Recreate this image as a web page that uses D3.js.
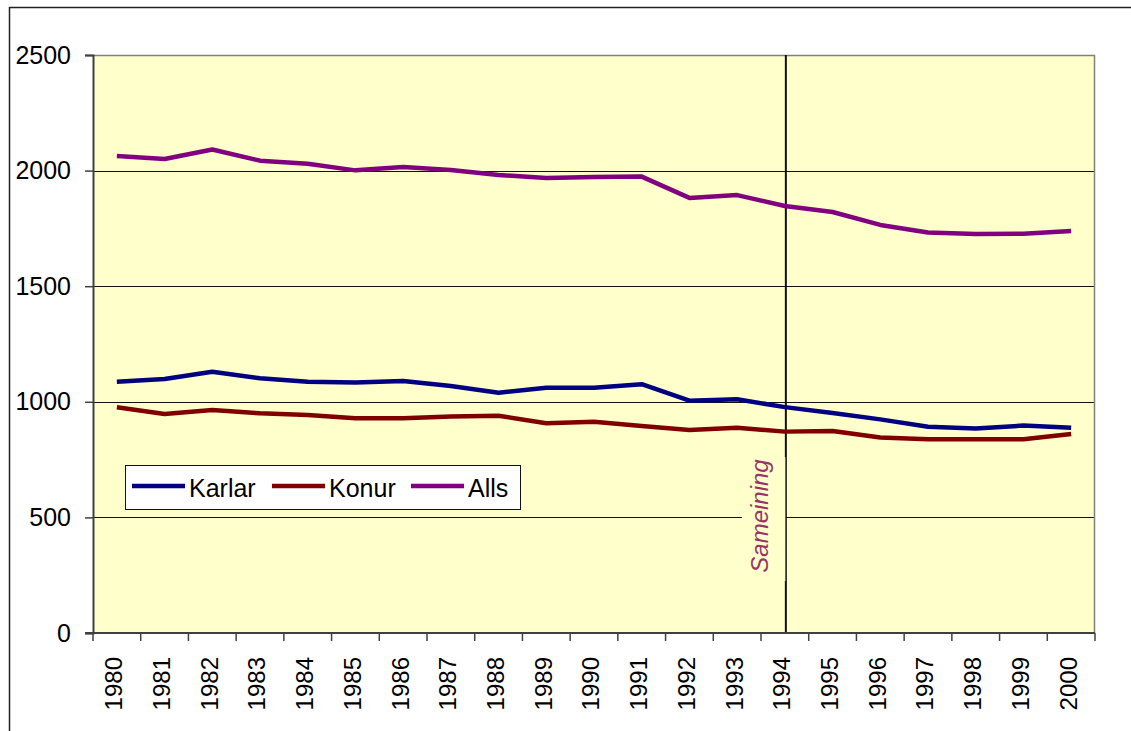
<!DOCTYPE html>
<html>
<head>
<meta charset="utf-8">
<script src="https://cdn.jsdelivr.net/npm/d3@7"></script>
<style>
  html, body { margin: 0; padding: 0; background: #ffffff; }
  svg { display: block; font-family: Arial, "Liberation Sans", sans-serif; }
</style>
</head>
<body>
<svg id="chart" width="1131" height="731"></svg>
<script>
const years = ["1980","1981","1982","1983","1984","1985","1986","1987","1988","1989","1990",
               "1991","1992","1993","1994","1995","1996","1997","1998","1999","2000"];
const karlar = [1087,1099,1130,1102,1087,1083,1090,1068,1039,1061,1061,1076,1005,1011,977,952,924,892,884,897,888];
const konur  = [976,947,965,950,943,929,929,936,940,907,914,895,878,888,871,874,846,838,838,838,861];
const alls   = [2063,2050,2091,2043,2030,2001,2016,2003,1981,1968,1972,1974,1882,1894,1847,1821,1765,1732,1726,1727,1739];
const yTicks = [0,500,1000,1500,2000,2500];
const seriesNames = ["Karlar","Konur","Alls"];
const seriesColors = ["#000080","#800000","#800080"];
const annotationYear = "1994";
const annotationText = "Sameining";

const svg = d3.select("#chart");
const L = 93, R = 1095, T = 55, B = 633;

// outer frame
svg.append("line").attr("x1",9.5).attr("x2",1131).attr("y1",7.5).attr("y2",7.5)
  .attr("stroke","#222").attr("stroke-width",1.5);
svg.append("line").attr("x1",9.5).attr("x2",9.5).attr("y1",7).attr("y2",731)
  .attr("stroke","#222").attr("stroke-width",1.5);

const x = d3.scaleBand().domain(years).range([L, R]).padding(0);
const y = d3.scaleLinear().domain([0, 2500]).range([B, T]);
const cx = d => x(d) + x.bandwidth() / 2;

// plot background
svg.append("rect").attr("x", L).attr("y", T).attr("width", R - L).attr("height", B - T)
  .attr("fill", "#FFFFCC");

// gridlines
svg.append("g").selectAll("line").data(yTicks.filter(v => v > 0 && v < 2500)).join("line")
  .attr("x1", L).attr("x2", R).attr("y1", d => Math.round(y(d)) + 0.5).attr("y2", d => Math.round(y(d)) + 0.5)
  .attr("stroke", "#111").attr("stroke-width", 1);

// top and right border
svg.append("path")
  .attr("d", `M${L},${T + 0.5}H${R - 0.5}V${B}`)
  .attr("fill", "none").attr("stroke", "#808080").attr("stroke-width", 1.5);

// vertical annotation line
const ax = cx(annotationYear) + 1;
svg.append("line").attr("x1", ax).attr("x2", ax).attr("y1", T).attr("y2", B)
  .attr("stroke", "#111").attr("stroke-width", 2);

// annotation box (covers gridline & half the line)
svg.append("rect").attr("x", ax - 44).attr("y", 457).attr("width", 43.5).attr("height", 124)
  .attr("fill", "#FFFFCC");
svg.append("text")
  .attr("transform", `translate(${ax - 18},${516}) rotate(-90)`)
  .attr("text-anchor", "middle")
  .attr("font-size", 24).attr("font-style", "italic")
  .attr("fill", "#993366")
  .text(annotationText);

// series lines
const allSeries = [karlar, konur, alls];
const line = d3.line().x((d, i) => cx(years[i])).y(d => y(d));
allSeries.forEach((s, k) => {
  svg.append("path").datum(s).attr("d", line)
    .attr("fill", "none").attr("stroke", seriesColors[k]).attr("stroke-width", 4.5)
    .attr("stroke-linejoin", "round");
});

// y axis
const yAxis = d3.axisLeft(y).tickValues(yTicks).tickSize(8).tickPadding(14).tickFormat(d3.format("d"));
const gy = svg.append("g").attr("transform", `translate(${L},0)`).call(yAxis);
gy.select(".domain").attr("stroke", "#404040").attr("stroke-width", 2);
gy.selectAll(".tick line").attr("stroke", "#404040").attr("stroke-width", 1.5);
gy.selectAll(".tick text").attr("font-size", 25).attr("fill", "#000")
  .attr("font-family", "Arial, 'Liberation Sans', sans-serif");

// x axis line
svg.append("line").attr("x1", L - 8).attr("x2", R).attr("y1", B).attr("y2", B)
  .attr("stroke", "#404040").attr("stroke-width", 2);
// boundary ticks
const bounds = years.map(d => x(d)).concat([R]);
svg.append("g").selectAll("line").data(bounds).join("line")
  .attr("x1", d => d).attr("x2", d => d).attr("y1", B).attr("y2", B + 8)
  .attr("stroke", "#404040").attr("stroke-width", 1.5);
// x labels
svg.append("g").selectAll("text").data(years).join("text")
  .attr("transform", d => `translate(${cx(d) - 3},${657}) rotate(-90)`)
  .attr("text-anchor", "end").attr("dy", "0.35em")
  .attr("font-size", 24).attr("fill", "#000")
  .text(d => d);

// legend
const lg = svg.append("g");
lg.append("rect").attr("x", 125.5).attr("y", 465.5).attr("width", 395).attr("height", 44)
  .attr("fill", "#fff").attr("stroke", "#111").attr("stroke-width", 1);
const legendX = [132, 272, 411];
seriesNames.forEach((n, k) => {
  lg.append("line").attr("x1", legendX[k]).attr("x2", legendX[k] + 53).attr("y1", 486).attr("y2", 486)
    .attr("stroke", seriesColors[k]).attr("stroke-width", 4.5);
  lg.append("text").attr("x", legendX[k] + 57).attr("y", 496.5)
    .attr("font-size", 25).attr("fill", "#000").text(n);
});
</script>
</body>
</html>
